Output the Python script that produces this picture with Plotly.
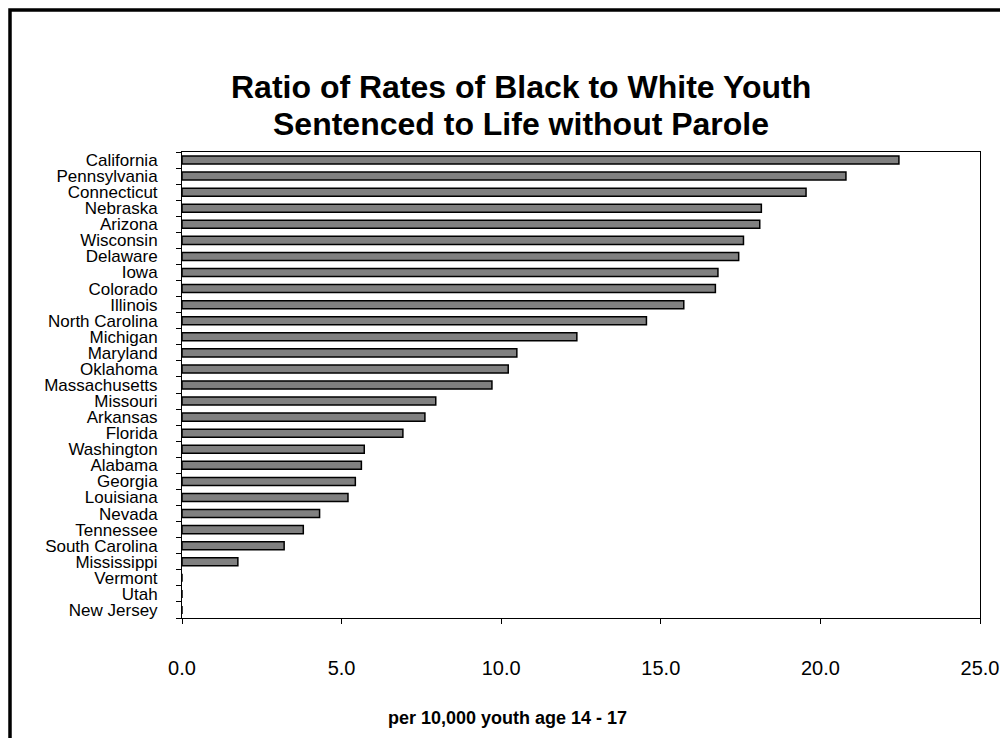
import plotly.graph_objects as go

states = ["California", "Pennsylvania", "Connecticut", "Nebraska", "Arizona", "Wisconsin",
          "Delaware", "Iowa", "Colorado", "Illinois", "North Carolina", "Michigan",
          "Maryland", "Oklahoma", "Massachusetts", "Missouri", "Arkansas", "Florida",
          "Washington", "Alabama", "Georgia", "Louisiana", "Nevada", "Tennessee",
          "South Carolina", "Mississippi", "Vermont", "Utah", "New Jersey"]
ratios = [22.46, 20.8, 19.55, 18.15, 18.1, 17.59,
          17.44, 16.79, 16.71, 15.72, 14.55, 12.37,
          10.49, 10.22, 9.71, 7.95, 7.61, 6.92,
          5.71, 5.62, 5.43, 5.2, 4.31, 3.8,
          3.2, 1.75, 0.0, 0.0, 0.0]
x_ticks = [0, 5, 10, 15, 20, 25]

title_lines = ["Ratio of Rates of Black to White Youth", "Sentenced to Life without Parole"]
x_title = "per 10,000 youth age 14 - 17"

OFF = 8  # page body margin
W, H = 1008, 738
L, T = 182 - OFF, 152 - OFF
R = W - (980 - OFF)
B = H - (618 - OFF)
pw, ph = W - L - R, H - T - B

def px(x):
    return (x - OFF - L) / pw

def py(y):
    return (H - B - (y - OFF)) / ph

FONT = "Liberation Sans, Arial, sans-serif"

fig = go.Figure(go.Bar(
    x=ratios, y=states, orientation="h",
    marker=dict(color="#808080", line=dict(color="black", width=1.5)),
    width=0.5,
))

fig.update_layout(
    width=W, height=H,
    margin=dict(l=L, r=R, t=T, b=B),
    paper_bgcolor="white", plot_bgcolor="white",
    showlegend=False,
    font=dict(family=FONT, color="black"),
    xaxis=dict(range=[0, 25], tickmode="array", tickvals=x_ticks, tickformat=".1f",
               showgrid=False, zeroline=False,
               showline=True, mirror=True, linecolor="black", linewidth=1,
               ticks="outside", ticklen=5, tickcolor="black",
               tickfont=dict(size=20, family=FONT, color="black"),
               ticklabelstandoff=27),
    yaxis=dict(categoryorder="array", categoryarray=states, autorange="reversed",
               tickmode="array", tickvals=states, ticktext=states,
               showgrid=False, zeroline=False,
               showline=True, mirror=True, linecolor="black", linewidth=1,
               ticks="outside", ticklen=5, tickcolor="black", tickson="boundaries",
               tickfont=dict(size=17, family=FONT, color="black"),
               ticklabelstandoff=20),
    bargap=0.5,
)

annotations = [
    dict(text="<b>%s</b>" % title_lines[0], x=px(521), y=py(87), xref="paper", yref="paper",
         xanchor="center", yanchor="middle", showarrow=False,
         font=dict(size=32, family=FONT, color="black")),
    dict(text="<b>%s</b>" % title_lines[1], x=px(521), y=py(124), xref="paper", yref="paper",
         xanchor="center", yanchor="middle", showarrow=False,
         font=dict(size=32, family=FONT, color="black")),
    dict(text="<b>%s</b>" % x_title, x=px(507), y=py(718), xref="paper", yref="paper",
         xanchor="center", yanchor="middle", showarrow=False,
         font=dict(size=18, family=FONT, color="black")),
]
fig.update_layout(annotations=annotations)

fig.add_shape(type="rect", xref="paper", yref="paper",
              x0=px(10), x1=px(1015), y0=py(750), y1=py(10),
              line=dict(color="black", width=3.5), fillcolor="rgba(0,0,0,0)", layer="below")

fig.write_html("out.html")
